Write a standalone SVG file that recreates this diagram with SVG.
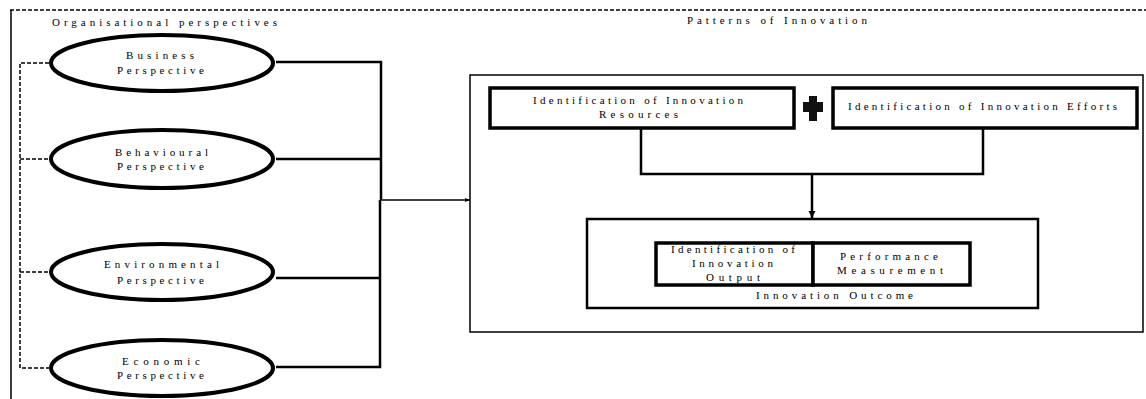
<svg xmlns="http://www.w3.org/2000/svg" width="1146" height="399" viewBox="0 0 1146 399">
<defs>
<style>
text{font-family:"Liberation Serif","Times New Roman",serif;font-size:11px;fill:#000}
.ell{fill:#fff;stroke:#000;stroke-width:4}
.thick{fill:#fff;stroke:#000;stroke-width:3.5}
.thin{fill:none;stroke:#000;stroke-width:1.5}
.con{fill:none;stroke:#000;stroke-width:2.5}
.dash{fill:none;stroke:#000;stroke-width:1.5;stroke-dasharray:4 2}
</style>
<marker id="arr" viewBox="0 0 10 10" refX="10" refY="5" markerWidth="6" markerHeight="5" orient="auto" markerUnits="userSpaceOnUse">
<path d="M0,1 L10,5 L0,9 z" fill="#000"/>
</marker>
<marker id="arr2" viewBox="0 0 10 10" refX="10" refY="5" markerWidth="7" markerHeight="8" orient="auto" markerUnits="userSpaceOnUse">
<path d="M0,0 L10,5 L0,10 z" fill="#000"/>
</marker>
</defs>
<rect width="1146" height="399" fill="#fff"/>
<g id="frame">
<line x1="10" y1="10" x2="1146" y2="10" class="dash" stroke-dasharray="3 1"/>
<line x1="11" y1="10" x2="11" y2="399" class="thin"/>
<text x="52" y="26" textLength="225" lengthAdjust="spacing">Organisational perspectives</text>
<text x="687" y="24" textLength="180" lengthAdjust="spacing">Patterns of Innovation</text>
</g>
<g id="connectors">
<path class="dash" d="M49,63 H20 V368 H49 M20,159 H49 M20,272 H49"/>
<path class="con" d="M276,62 H381 V200 M276,159 H381 M276,278 H380 M276,367 H380 V200"/>
<line x1="381" y1="200" x2="470" y2="200" stroke="#000" stroke-width="1.5" marker-end="url(#arr)"/>
<path class="con" d="M641,128 V174 H983 V128"/>
<line x1="812" y1="174" x2="812" y2="218" stroke="#000" stroke-width="2.5" marker-end="url(#arr2)"/>
</g>
<g id="business">
<ellipse class="ell" cx="162" cy="63" rx="111" ry="28"/>
<text x="126" y="59" textLength="68" lengthAdjust="spacing">Business</text>
<text x="117" y="74" textLength="87" lengthAdjust="spacing">Perspective</text>
</g>
<g id="behavioural">
<ellipse class="ell" cx="162" cy="159" rx="111" ry="29"/>
<text x="115" y="156" textLength="93" lengthAdjust="spacing">Behavioural</text>
<text x="117" y="170" textLength="87" lengthAdjust="spacing">Perspective</text>
</g>
<g id="environmental">
<ellipse class="ell" cx="162" cy="272" rx="111" ry="28"/>
<text x="104" y="268" textLength="115" lengthAdjust="spacing">Environmental</text>
<text x="117" y="284" textLength="87" lengthAdjust="spacing">Perspective</text>
</g>
<g id="economic">
<ellipse class="ell" cx="162" cy="368" rx="111" ry="28"/>
<text x="122" y="365" textLength="78" lengthAdjust="spacing">Economic</text>
<text x="117" y="379" textLength="87" lengthAdjust="spacing">Perspective</text>
</g>
<g id="patterns">
<rect x="470" y="75" width="673" height="257" class="thin"/>
</g>
<g id="resources">
<rect x="490" y="88" width="304" height="40" class="thick"/>
<text x="533" y="104" textLength="210" lengthAdjust="spacing">Identification of Innovation</text>
<text x="599" y="118" textLength="79" lengthAdjust="spacing">Resources</text>
</g>
<g id="plus">
<path d="M809,96 H817 V102 H823 V112 H817 V121 H809 V112 H803 V102 H809 Z" fill="#111"/>
</g>
<g id="efforts">
<rect x="833" y="88" width="304" height="40" class="thick"/>
<text x="848" y="110" textLength="269" lengthAdjust="spacing">Identification of Innovation Efforts</text>
</g>
<g id="outcome">
<rect x="587" y="219" width="451" height="89" fill="#fff" stroke="#000" stroke-width="2.5"/>
<text x="756" y="299" textLength="157" lengthAdjust="spacing">Innovation Outcome</text>
</g>
<g id="output">
<rect x="656" y="243" width="157" height="42" class="thick"/>
<text x="671" y="253" textLength="124" lengthAdjust="spacing">Identification of</text>
<text x="692" y="267" textLength="81" lengthAdjust="spacing">Innovation</text>
<text x="706" y="281" textLength="54" lengthAdjust="spacing">Output</text>
</g>
<g id="performance">
<rect x="813" y="243" width="157" height="42" class="thick"/>
<text x="840" y="260" textLength="98" lengthAdjust="spacing">Performance</text>
<text x="837" y="274" textLength="106" lengthAdjust="spacing">Measurement</text>
</g>
</svg>
